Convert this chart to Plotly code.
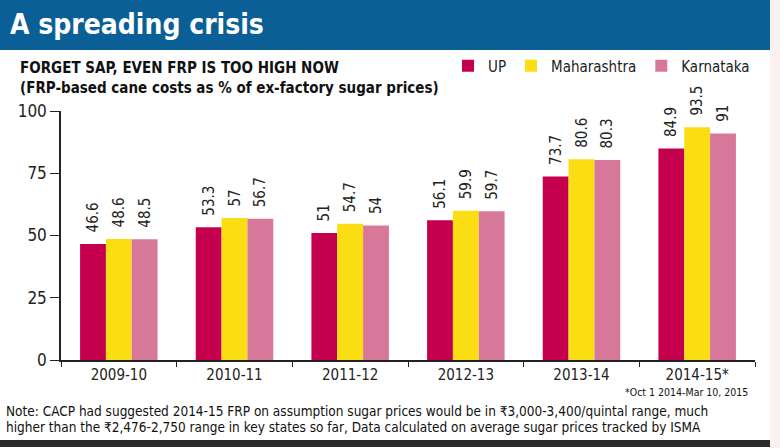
import plotly.graph_objects as go

# data
seasons = ["2009-10", "2010-11", "2011-12", "2012-13", "2013-14", "2014-15*"]
up_vals = [46.6, 53.3, 51, 56.1, 73.7, 84.9]
maharashtra_vals = [48.6, 57, 54.7, 59.9, 80.6, 93.5]
karnataka_vals = [48.5, 56.7, 54, 59.7, 80.3, 91]
y_ticks = [0, 25, 50, 75, 100]

W, H = 780, 448
L, R, T, B = 61, 25, 111, 88
pw, ph = W - L - R, H - T - B

# pixel -> paper helpers for decorations outside the plot area
def px(x):
    return (x - L) / pw

def py(y):
    return 1 - (y - T) / ph

FONT = "DejaVu Sans Condensed, Roboto Condensed, Roboto, sans-serif"

fig = go.Figure()
for name, vals, col in [("UP", up_vals, "#c4004e"),
                        ("Maharashtra", maharashtra_vals, "#fbdd14"),
                        ("Karnataka", karnataka_vals, "#d7789a")]:
    fig.add_trace(go.Bar(
        x=seasons, y=vals, name=name, marker=dict(color=col, line=dict(width=0)),
        text=["\u00a0\u00a0" + f"{v:g}" for v in vals], textposition="outside", textangle=-90,
        constraintext="none",
        textfont=dict(family=FONT, size=15, color="#222"), cliponaxis=False,
    ))

fig.update_layout(
    width=W, height=H, margin=dict(l=L, r=R, t=T, b=B),
    plot_bgcolor="white", paper_bgcolor="white",
    barmode="group", bargap=0.33, bargroupgap=0,
    font=dict(family=FONT, color="#222", size=15),
    showlegend=True,
    legend=dict(orientation="h", x=1, xanchor="right", y=py(66), yanchor="middle",
                font=dict(size=15, family=FONT), traceorder="normal",
                itemwidth=30, bgcolor="rgba(0,0,0,0)"),
    xaxis=dict(type="category", showline=True, linecolor="#222", linewidth=1.5, ticks="outside",
               tickson="boundaries", ticklen=5, tickcolor="#222",
               tickfont=dict(size=15, family=FONT), showgrid=False),
    yaxis=dict(range=[0, 100], tickvals=y_ticks, showline=True, linecolor="#222",
               linewidth=1.5, ticks="outside", ticklen=9, tickcolor="#222",
               tickfont=dict(size=17, family=FONT), showgrid=False, zeroline=False),
)

shapes = [
    # blue header band
    dict(type="rect", xref="paper", yref="paper", x0=px(0), x1=px(770), y0=py(50), y1=py(0),
         fillcolor="#0b5f97", line=dict(width=0), layer="below"),
    # faint strip on the right
    dict(type="rect", xref="paper", yref="paper", x0=px(770), x1=px(780), y0=py(448), y1=py(0),
         fillcolor="#fbf0f0", line=dict(width=0), layer="below"),
    # bottom rule
    dict(type="rect", xref="paper", yref="paper", x0=px(0), x1=px(770), y0=py(447), y1=py(440),
         fillcolor="#2a2a2a", line=dict(width=0)),
]
fig.update_layout(shapes=shapes)

notes = [
    dict(text="<b>A spreading crisis</b>", x=px(8), y=py(25), size=28, color="white"),
    dict(text="<b>FORGET SAP, EVEN FRP IS TOO HIGH NOW</b>", x=px(18), y=py(68), size=15, color="#111"),
    dict(text="<b>(FRP-based cane costs as % of ex-factory sugar prices)</b>", x=px(18), y=py(88), size=15, color="#111"),
    dict(text="Note: CACP had suggested 2014-15 FRP on assumption sugar prices would be in \u20b93,000-3,400/quintal range, much",
         x=px(4), y=py(411), size=13.5, color="#111"),
    dict(text="higher than the \u20b92,476-2,750 range in key states so far, Data calculated on average sugar prices tracked by ISMA",
         x=px(4), y=py(427), size=13.5, color="#111"),
]
for n in notes:
    fig.add_annotation(text=n["text"], x=n["x"], y=n["y"], xref="paper", yref="paper",
                       xanchor="left", yanchor="middle", showarrow=False,
                       font=dict(family=FONT, size=n["size"], color=n["color"]))
fig.add_annotation(text="*Oct 1 2014-Mar 10, 2015", x=px(750), y=py(392), xref="paper", yref="paper",
                   xanchor="right", yanchor="middle", showarrow=False,
                   font=dict(family=FONT, size=10.5, color="#111"))

# drop the default page margin so the figure sits at the window corner
fig.write_html("out.html", config={"displayModeBar": False},
               post_script="document.body.style.margin='0';")
